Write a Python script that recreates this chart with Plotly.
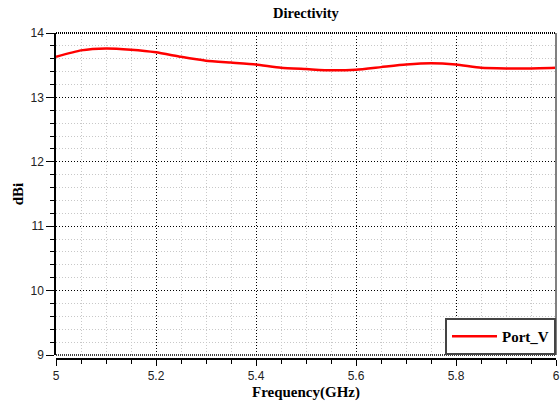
import plotly.graph_objects as go

freq = [5.0, 5.05, 5.1, 5.15, 5.2, 5.25, 5.3, 5.35, 5.4, 5.45, 5.5,
        5.55, 5.6, 5.65, 5.7, 5.75, 5.8, 5.85, 5.9, 5.95, 6.0]
port_v = [13.63, 13.73, 13.76, 13.74, 13.70, 13.63, 13.57, 13.54, 13.51, 13.46, 13.44,
          13.42, 13.43, 13.47, 13.51, 13.53, 13.51, 13.46, 13.45, 13.45, 13.46]

serif = "Liberation Serif"
sans = "Liberation Sans"

fig = go.Figure()
fig.add_trace(go.Scatter(x=freq, y=port_v, mode="lines",
                         name="<b>Port_V</b>",
                         line=dict(color="#ff0000", width=2.5, shape="spline", smoothing=0.5)))

ydom0 = 4 / 326

fig.update_layout(
    width=560, height=408,
    margin=dict(l=56, r=4, t=33, b=49),
    paper_bgcolor="white", plot_bgcolor="white",
    title=dict(text="<b>Directivity</b>", xref="paper", x=0.5, xanchor="center",
               yref="container", y=1 - 13 / 408, yanchor="middle",
               font=dict(family=serif, size=14.5, color="black")),
    showlegend=True,
    legend=dict(x=1, y=ydom0, xanchor="right", yanchor="bottom",
                bgcolor="white", bordercolor="#444444", borderwidth=2,
                font=dict(family=serif, size=15, color="black"),
                itemwidth=45),
    xaxis=dict(
        range=[5, 6], dtick=0.2, tick0=5, anchor="free", position=0, automargin=False,
        showline=True, linecolor="black", linewidth=1.5,
        ticks="outside", ticklen=6, tickcolor="black",
        tickfont=dict(family=sans, size=12, color="#222222"),
        showgrid=True, gridcolor="black", griddash="1px,2px", gridwidth=1,
        zeroline=False,
        minor=dict(dtick=0.05, ticks="outside", ticklen=4, tickcolor="black",
                   showgrid=True, gridcolor="#c8c8c8", griddash="1px,2px", gridwidth=1),
        title=dict(text="<b>Frequency(GHz)</b>", font=dict(family=serif, size=15, color="black"),
                   standoff=3),
    ),
    yaxis=dict(
        range=[9, 14], dtick=1, domain=[ydom0, 1], automargin=False,
        showline=True, linecolor="black", linewidth=1.5,
        ticks="outside", ticklen=8, tickcolor="black",
        tickfont=dict(family=sans, size=12, color="#222222"),
        showgrid=True, gridcolor="black", griddash="1px,2px", gridwidth=1,
        zeroline=False,
        minor=dict(dtick=0.2, ticks="outside", ticklen=4, tickcolor="black",
                   showgrid=True, gridcolor="#c8c8c8", griddash="1px,2px", gridwidth=1),
        title=dict(text="<b>dBi</b>", font=dict(family=serif, size=15, color="black"),
                   standoff=3),
    ),
)

# plot frame: right edge gray, top and bottom dotted dark
fig.add_shape(type="line", xref="paper", yref="paper", x0=1, x1=1, y0=ydom0, y1=1,
              line=dict(color="#808080", width=2))
fig.add_shape(type="line", xref="paper", yref="paper", x0=0, x1=1, y0=1, y1=1,
              line=dict(color="black", width=2, dash="1px,1px"))
fig.add_shape(type="line", xref="paper", yref="paper", x0=0, x1=1, y0=ydom0, y1=ydom0,
              line=dict(color="black", width=1.5, dash="1px,1px"))

fig.write_html("out.html", config={"displayModeBar": False},
               post_script="document.body.style.margin='0px';")
